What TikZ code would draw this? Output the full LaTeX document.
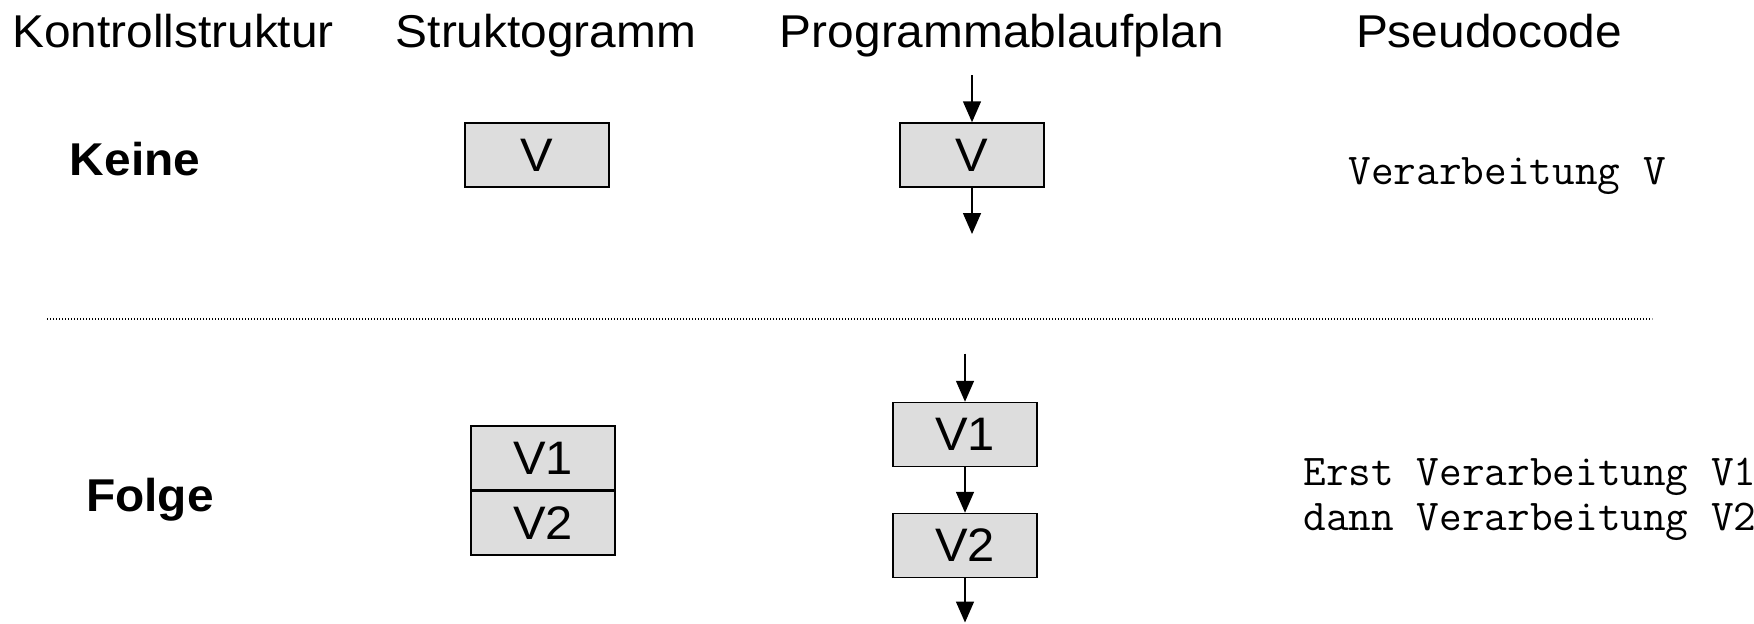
\documentclass[tikz,border=0pt]{standalone}
\usepackage{fontspec}
\setmainfont[FakeStretch=1.04]{Liberation Sans}
\usetikzlibrary{arrows.meta}
\definecolor{boxgrey}{HTML}{DDDDDD}
\begin{document}
\begin{tikzpicture}[x=0.5pt,y=-0.5pt,
  heading/.style={anchor=base,inner sep=0pt,font=\fontsize{23}{27.6}\selectfont},
  rowlabel/.style={anchor=base,inner sep=0pt,font=\fontsize{23}{27.6}\selectfont\bfseries},
  vbox/.style={draw,line width=0.75pt,fill=boxgrey,minimum width=72pt,minimum height=32pt,
    inner sep=0pt,font=\fontsize{23.5}{27.6}\selectfont},
  flow/.style={line width=0.75pt,-{Triangle[width=9pt,length=10.5pt]}},
  code/.style={anchor=base west,inner sep=0pt,
    font=\fontsize{22}{22.3}\selectfont\ttfamily}]
\useasboundingbox (0,0) rectangle (1754,623);

% column headings
\node[heading] (hk) at (173,47) {Kontrollstruktur};
\node[heading] (hs) at (546,47) {Struktogramm};
\node[heading] (hp) at (1002,47) {Programmablaufplan};
\node[heading] (hc) at (1489,47) {Pseudocode};

% row 1: no control structure
\node[rowlabel] (keine) at (135,175.5) {Keine};
\node[vbox] (s1) at (537,155) {V};
\node[vbox] (p1) at (972,155) {V};
\coordinate (p1in) at (972,75);
\coordinate (p1out) at (972,234);
\draw[flow] (p1in) -- (p1.north);
\draw[flow] (p1.south) -- (p1out);
\node[code] (c1) at (1348,184.5) {Verarbeitung V};

% separator
\coordinate (sepL) at (47,319);
\coordinate (sepR) at (1652,319);
\draw[line width=0.6pt,dash pattern=on 0.6pt off 0.9pt] (sepL) -- (sepR);

% row 2: sequence
\node[rowlabel] (folge) at (150,511) {Folge};
\node[vbox] (s2a) at (543,458) {V1};
\node[vbox] (s2b) at (543,523) {V2};
\draw[line width=1.3pt] (s2a.south west) -- (s2a.south east);
\node[vbox] (p2a) at (965,434.5) {V1};
\node[vbox] (p2b) at (965,545.5) {V2};
\coordinate (p2in) at (965,353.5);
\coordinate (p2out) at (965,622.5);
\draw[flow] (p2in) -- (p2a.north);
\draw[flow] (p2a.south) -- (p2b.north);
\draw[flow] (p2b.south) -- (p2out);
\node[code] (c2a) at (1303,485.5) {Erst Verarbeitung V1};
\node[code] (c2b) at (1303,530) {dann Verarbeitung V2};
\end{tikzpicture}
\end{document}
